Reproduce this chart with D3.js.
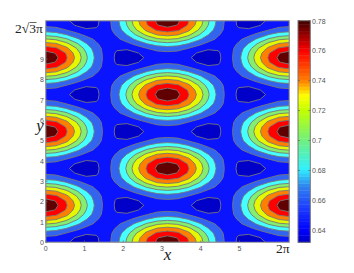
<!DOCTYPE html>
<html>
<head>
<meta charset="utf-8">
<script src="https://cdn.jsdelivr.net/npm/d3@7"></script>
<style>
  body { margin: 0; background: #fff; }
  svg { display: block; }
  .tick { font-family: "Liberation Sans", sans-serif; font-size: 7px; fill: #555; }
  .math { font-family: "Liberation Serif", serif; fill: #222; }
</style>
</head>
<body>
<svg></svg>
<script>
var screenWidth = 354
var screenHeight = 273

// contour bands, lowest first
var levels = [0.639, 0.657, 0.676, 0.695, 0.713, 0.732, 0.751, 0.769]
var bandColors = ["#0000c8", "#0a14ff", "#3264f0", "#46ffff", "#86ee6e", "#e6f800", "#ff8000", "#ff0000", "#600000"]

var xTicks = [0, 1, 2, 3, 4, 5]
var yTicks = [0, 1, 2, 3, 4, 5, 6, 7, 8, 9]
var barTicks = [0.64, 0.66, 0.68, 0.70, 0.72, 0.74, 0.76, 0.78]
var barTickLabels = ["0.64", "0.66", "0.68", "0.7", "0.72", "0.74", "0.76", "0.78"]

var barValues = [0.632, 0.640, 0.655, 0.669, 0.681, 0.700, 0.720, 0.730, 0.740, 0.760, 0.780]
var barColors = ["#0000c0", "#0000ff", "#1c3cff", "#3080f0", "#30f0ff", "#70f080", "#c0ff00", "#ffff00", "#ff8000", "#ff0000", "#400000"]

var xMax = 6.283
var yMax = 10.88

// the rows of the field that differ, 25 columns left to right
var row0 = [.648, .646, .641, .635, .632, .636, .648, .670, .698, .728, .754, .773, .780, .773, .754, .728, .698, .670, .648, .636, .632, .635, .641, .646, .648]
var row1 = [.653, .651, .645, .638, .634, .637, .648, .668, .695, .724, .750, .768, .775, .768, .750, .724, .695, .668, .648, .637, .634, .638, .645, .651, .653]
var row2 = [.667, .665, .657, .648, .641, .641, .648, .665, .688, .714, .738, .754, .760, .754, .738, .714, .688, .665, .648, .641, .641, .648, .657, .665, .667]
var row3 = [.689, .685, .676, .663, .652, .646, .648, .659, .677, .699, .719, .734, .739, .734, .719, .699, .677, .659, .648, .646, .652, .663, .676, .685, .689]
var row4 = [.714, .710, .698, .681, .665, .653, .648, .653, .665, .681, .698, .710, .714, .710, .698, .681, .665, .653, .648, .653, .665, .681, .698, .710, .714]
var row5 = [.739, .734, .719, .699, .677, .659, .648, .646, .652, .663, .676, .685, .689, .685, .676, .663, .652, .646, .648, .659, .677, .699, .719, .734, .739]
var row6 = [.760, .754, .738, .714, .688, .665, .648, .641, .641, .648, .657, .665, .667, .665, .657, .648, .641, .641, .648, .665, .688, .714, .738, .754, .760]
var row7 = [.775, .768, .750, .724, .695, .668, .648, .637, .634, .638, .645, .651, .653, .651, .645, .638, .634, .637, .648, .668, .695, .724, .750, .768, .775]
var row8 = [.780, .773, .754, .728, .698, .670, .648, .636, .632, .635, .641, .646, .648, .646, .641, .635, .632, .636, .648, .670, .698, .728, .754, .773, .780]

// bottom to top
var fieldRows = [
  row0, row1, row2, row3, row4, row5, row6, row7, row8, row7, row6, row5, row4, row3, row2, row1,
  row0, row1, row2, row3, row4, row5, row6, row7, row8, row7, row6, row5, row4, row3, row2, row1,
  row0, row1, row2, row3, row4, row5, row6, row7, row8, row7, row6, row5, row4, row3, row2, row1,
  row0
]

var svg = d3.select("svg")
svg.attr("width", screenWidth).attr("height", screenHeight)

var plot = {left: 45.7, right: 289.3, top: 20.7, bottom: 242.3}
var bar = {left: 298, right: 310.3}

var x = d3.scaleLinear().domain([0, xMax]).range([plot.left, plot.right])
var y = d3.scaleLinear().domain([0, yMax]).range([plot.bottom, plot.top])
var barY = d3.scaleLinear().domain([0.632, 0.78]).range([plot.bottom, plot.top])
var barColor = d3.scaleLinear().domain(barValues).range(barColors)

// d3.contours puts grid point k at k + 0.5
var nx = fieldRows[0].length
var ny = fieldRows.length
var gridX = d3.scaleLinear().domain([0.5, nx - 0.5]).range([0, xMax]).clamp(true)
var gridY = d3.scaleLinear().domain([0.5, ny - 0.5]).range([0, yMax]).clamp(true)

var path = d3.geoPath(d3.geoTransform({
  point: function(px, py) { this.stream.point(x(gridX(px)), y(gridY(py))) }
}))

var contours = d3.contours().size([nx, ny]).thresholds(levels)(fieldRows.flat())

svg.append("clipPath").attr("id", "plotClip").append("rect")
  .attr("x", plot.left).attr("y", plot.top)
  .attr("width", plot.right - plot.left).attr("height", plot.bottom - plot.top)

var field = svg.append("g").attr("clip-path", "url(#plotClip)")

field.append("rect")
  .attr("x", plot.left).attr("y", plot.top)
  .attr("width", plot.right - plot.left).attr("height", plot.bottom - plot.top)
  .attr("fill", bandColors[0])

field.selectAll("path").data(contours).join("path")
  .attr("d", path)
  .attr("fill", function(d, i) { return bandColors[i + 1] })
  .attr("stroke", "#777")
  .attr("stroke-width", 0.9)

// frame and ticks
svg.append("rect")
  .attr("x", plot.left).attr("y", plot.top)
  .attr("width", plot.right - plot.left).attr("height", plot.bottom - plot.top)
  .attr("fill", "none").attr("stroke", "#999").attr("stroke-width", 1)

svg.selectAll(".xmark").data(xTicks).join("line")
  .attr("x1", d => x(d)).attr("x2", d => x(d))
  .attr("y1", plot.bottom).attr("y2", plot.bottom - 2)
  .attr("stroke", "#666").attr("stroke-width", 0.6)

svg.selectAll(".ymark").data(yTicks).join("line")
  .attr("x1", plot.left).attr("x2", plot.left + 2)
  .attr("y1", d => y(d)).attr("y2", d => y(d))
  .attr("stroke", "#666").attr("stroke-width", 0.6)

svg.selectAll(".xlab").data(xTicks).join("text")
  .attr("class", "tick")
  .attr("x", d => x(d)).attr("y", 248.5)
  .attr("text-anchor", "middle").attr("dominant-baseline", "central")
  .text(d => d)

svg.selectAll(".ylab").data(yTicks).join("text")
  .attr("class", "tick")
  .attr("x", 44).attr("y", d => y(d) + 0.3)
  .attr("text-anchor", "end").attr("dominant-baseline", "central")
  .text(d => d)

function addMath(text, px, py, size, italic, anchor){
  svg.append("text")
    .attr("class", "math")
    .attr("x", px).attr("y", py)
    .attr("font-size", size)
    .attr("font-style", italic ? "italic" : "normal")
    .attr("text-anchor", anchor || "start")
    .text(text)
}

addMath("y", 40, 131, 17, true, "middle")
addMath("x", 167.5, 260, 17, true, "middle")
addMath("2\u03c0", 289.7, 253, 13.5, false, "end")
addMath("2\u221a3\u03c0", 15, 32.5, 13.5, false)
// bar over the 3 of the root
svg.append("line")
  .attr("x1", 29.5).attr("x2", 36.5)
  .attr("y1", 22.5).attr("y2", 22.5)
  .attr("stroke", "#222").attr("stroke-width", 0.7)

// colour bar
var barSteps = d3.range(64)
var barStep = (0.78 - 0.632) / 64
svg.selectAll(".barcell").data(barSteps).join("rect")
  .attr("x", bar.left)
  .attr("width", bar.right - bar.left)
  .attr("y", d => barY(0.632 + (d + 1) * barStep))
  .attr("height", d => barY(0.632 + d * barStep) - barY(0.632 + (d + 1) * barStep) + 0.4)
  .attr("fill", d => barColor(0.632 + (d + 0.5) * barStep))

svg.append("rect")
  .attr("x", bar.left).attr("y", plot.top)
  .attr("width", bar.right - bar.left).attr("height", plot.bottom - plot.top)
  .attr("fill", "none").attr("stroke", "#777").attr("stroke-width", 1)

svg.selectAll(".barmark").data(barTicks).join("line")
  .attr("x1", bar.right - 2).attr("x2", bar.right)
  .attr("y1", d => barY(d)).attr("y2", d => barY(d))
  .attr("stroke", "#555").attr("stroke-width", 0.6)

svg.selectAll(".barmarkleft").data(barTicks).join("line")
  .attr("x1", bar.left).attr("x2", bar.left + 2)
  .attr("y1", d => barY(d)).attr("y2", d => barY(d))
  .attr("stroke", "#555").attr("stroke-width", 0.6)

svg.selectAll(".barlab").data(barTicks).join("text")
  .attr("class", "tick")
  .attr("x", 312).attr("y", d => barY(d) + 0.3)
  .attr("dominant-baseline", "central")
  .text((d, i) => barTickLabels[i])
</script>
</body>
</html>
